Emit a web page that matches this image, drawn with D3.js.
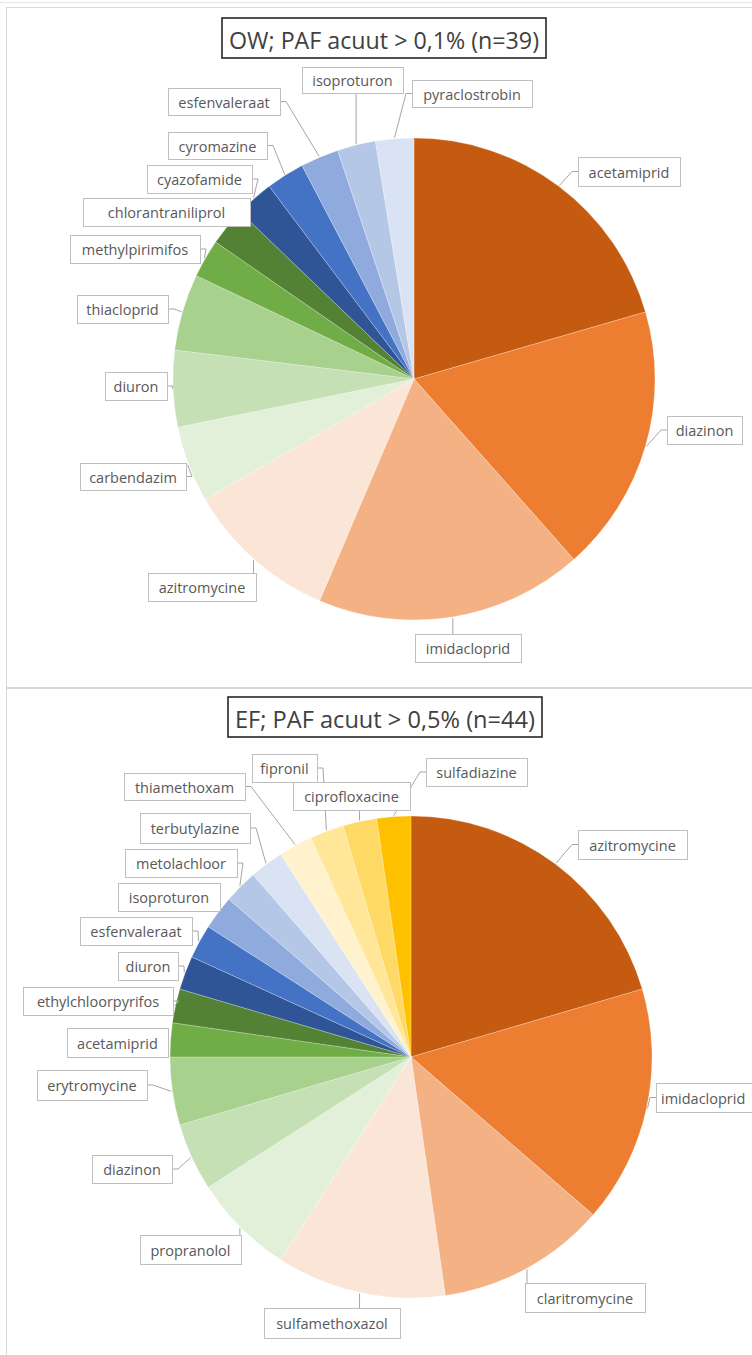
<!DOCTYPE html>
<html><head><meta charset="utf-8">
<script src="https://cdn.jsdelivr.net/npm/d3@7"></script>
<style>body{margin:0;background:#fff}svg{display:block}</style>
</head><body><svg id="c" width="752" height="1355"></svg>
<script>
// ---------- DATA ----------
const owTitle = "OW; PAF acuut > 0,1% (n=39)";
const owCategories = ["acetamiprid","diazinon","imidacloprid","azitromycine","carbendazim","diuron","thiacloprid","methylpirimifos","chlorantraniliprol","cyazofamide","cyromazine","esfenvaleraat","isoproturon","pyraclostrobin"];
const owValues = [8,7,7,4,2,2,2,1,1,1,1,1,1,1];

const efTitle = "EF; PAF acuut > 0,5% (n=44)";
const efCategories = ["azitromycine","imidacloprid","claritromycine","sulfamethoxazol","propranolol","diazinon","erytromycine","acetamiprid","ethylchloorpyrifos","diuron","esfenvaleraat","isoproturon","metolachloor","terbutylazine","thiamethoxam","fipronil","ciprofloxacine","sulfadiazine"];
const efValues = [9,7,5,5,3,2,2,1,1,1,1,1,1,1,1,1,1,1];

// ---------- STYLE / LAYOUT ----------
const palette = ["#C55A11","#ED7D31","#F4B183","#FBE5D6","#E2F0D9","#C5E0B4","#A9D18E","#70AD47","#548235","#2F5597","#4472C4","#8FAADC","#B4C7E7","#DAE3F3","#FFF2CC","#FFE699","#FFD966","#FFC000"];

// label box positions [x0,y0,x1,y1], same order as categories
const owLabelBoxes = [[578,157,680,186],[667,416,742,444],[415,634,521,662],[148,573,256,601],[80,463,186,490],[105,372,167,400],[77,295,168,323],[70,235,200,263],[83,198,250,226],[147,165,252,193],[168,132,267,159],[168,88,280,115],[302,67,403,93],[412,80,532,107]];
const efLabelBoxes = [[578,830,687,859],[656,1083,770,1112],[525,1283,645,1312],[264,1308,400,1338],[140,1235,241,1264],[92,1155,172,1183],[37,1070,147,1100],[67,1028,168,1057],[23,987,173,1015],[118,952,178,980],[80,917,192,945],[118,883,220,911],[125,849,237,877],[140,813,250,843],[124,773,245,800],[252,754,317,782],[293,782,410,810],[426,758,527,786]];

const FONT = "'Open Sans', 'Noto Sans', sans-serif";
const W = 752;
const svg = d3.select("#c");

// panel frames
svg.append("line").attr("x1",0).attr("x2",W).attr("y1",2.5).attr("y2",2.5).attr("stroke","#E6E6E6");
svg.append("rect").attr("x",6.5).attr("y",7.5).attr("width",800).attr("height",680).attr("fill","#fff").attr("stroke","#D9D9D9");
svg.append("rect").attr("x",6.5).attr("y",688.5).attr("width",800).attr("height",700).attr("fill","#fff").attr("stroke","#D9D9D9");

function drawPie(cfg){
  const g = svg.append("g");
  const data = cfg.categories.map((c,i)=>({name:c, v:cfg.values[i], box:cfg.boxes[i]}));
  const color = d3.scaleOrdinal().domain(cfg.categories).range(palette);
  const pie = d3.pie().sort(null).value(d=>d.v);
  const arcs = pie(data);
  const arc = d3.arc().innerRadius(0).outerRadius(cfg.r);
  const edge = d3.arc().innerRadius(cfg.r+1).outerRadius(cfg.r+1);
  const pg = g.append("g").attr("transform",`translate(${cfg.cx},${cfg.cy})`);
  pg.selectAll("path").data(arcs).join("path")
    .attr("d",arc).attr("fill",d=>color(d.data.name))
    .attr("stroke","#fff").attr("stroke-width",0.25);

  // leader lines
  const lg = g.append("g");
  arcs.forEach(a=>{
    const [ex,ey] = edge.centroid(a);
    const ax = cfg.cx+ex, ay = cfg.cy+ey;
    const [x0,y0,x1,y1] = a.data.box;
    const my = (y0+y1)/2;
    let pts;
    if (ax > x1) pts = [[x1,my],[x1+6,my],[ax,ay]];
    else if (ax < x0) pts = [[x0,my],[x0-6,my],[ax,ay]];
    else if (ay > y1) pts = [[ax,y1],[ax,ay]];
    else if (ay < y0) pts = [[ax,y0],[ax,ay]];
    else pts = null;
    if (!pts) return;
    const last = pts[pts.length-1], first = pts[0];
    if (Math.hypot(last[0]-first[0], last[1]-first[1]) < 4) return;
    lg.append("path").attr("d", d3.line()(pts)).attr("fill","none")
      .attr("stroke","#A6A6A6").attr("stroke-width",1);
  });

  // label boxes
  const bg = g.append("g");
  data.forEach(d=>{
    const [x0,y0,x1,y1] = d.box;
    const clipped = x1 > W;
    bg.append("rect").attr("x",x0+0.5).attr("y",y0+0.5).attr("width",x1-x0).attr("height",y1-y0)
      .attr("fill","#fff").attr("stroke","#BFBFBF").attr("stroke-width",1);
    bg.append("text").attr("x",clipped ? x0+5 : (x0+x1)/2).attr("y",(y0+y1)/2+0.5)
      .attr("text-anchor",clipped ? "start" : "middle").attr("dominant-baseline","central")
      .attr("font-family",FONT).attr("font-size",14.5).attr("fill","#595959")
      .text(d.name);
  });

  // title
  const t = cfg.titleBox;
  g.append("rect").attr("x",t[0]).attr("y",t[1]).attr("width",t[2]-t[0]).attr("height",t[3]-t[1])
    .attr("fill","#fff").attr("stroke","#262626").attr("stroke-width",1.6);
  g.append("text").attr("x",(t[0]+t[2])/2).attr("y",(t[1]+t[3])/2+1)
    .attr("text-anchor","middle").attr("dominant-baseline","central")
    .attr("font-family",FONT).attr("font-size",24).attr("fill","#404040")
    .attr("textLength",t[2]-t[0]-14).attr("lengthAdjust","spacingAndGlyphs")
    .text(cfg.title);
}

drawPie({title:owTitle, categories:owCategories, values:owValues, boxes:owLabelBoxes,
  cx:414, cy:379, r:241, titleBox:[222,18,546,58]});
drawPie({title:efTitle, categories:efCategories, values:efValues, boxes:efLabelBoxes,
  cx:411, cy:1057, r:241, titleBox:[228,697,542,737]});
</script></body></html>
